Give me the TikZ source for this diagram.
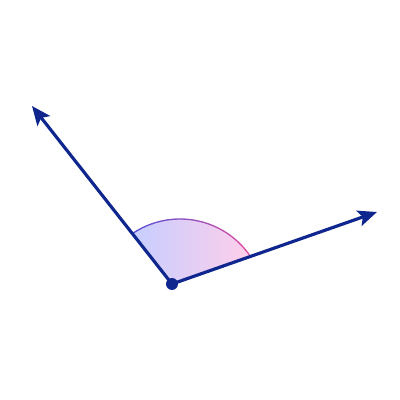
\documentclass[tikz,border=0pt]{standalone}
\usepackage{xcolor}
\usetikzlibrary{arrows.meta, positioning}
\definecolor{rayblue}{RGB}{14,38,142}
\definecolor{fillL}{RGB}{198,206,255}
\definecolor{fillR}{RGB}{255,206,234}
\definecolor{arcL}{RGB}{88,80,212}
\definecolor{arcR}{RGB}{222,78,160}

\begin{document}
\begin{tikzpicture}[x=0.02cm, y=0.02cm,
		ray/.style={draw=rayblue, line width=1.8pt, -{Stealth[length=0.38cm, width=0.32cm, inset=0.08cm]}},
		vertex/.style={circle, fill=rayblue, inner sep=0pt, minimum size=0.24cm}
	]
		\useasboundingbox (0,0) rectangle (400,400);
		\coordinate (ctr) at (180,96);
		\coordinate (tipL) at (32,294);
		\coordinate (tipR) at (377,188);

		% angle sector
		\shade [left color=fillL, right color=fillR, shading=axis]
			(172,116) -- ([shift={(34:85)}]ctr) arc [start angle=34, end angle=124, radius=85] -- cycle;
		\foreach \i in {0,...,17} {
			\pgfmathsetmacro{\p}{100-\i*100/17}
			\draw [color=arcR!\p!arcL, line width=0.75pt]
				([shift={(34+5*\i:85)}]ctr) arc [start angle=34+5*\i, end angle=39.2+5*\i, radius=85];
		}

		\node (vtx) [vertex] at (172,116) {};
		\draw [ray] (vtx.center) -- (tipL);
		\draw [ray] (vtx.center) -- (tipR);
	\end{tikzpicture}
\end{document}
